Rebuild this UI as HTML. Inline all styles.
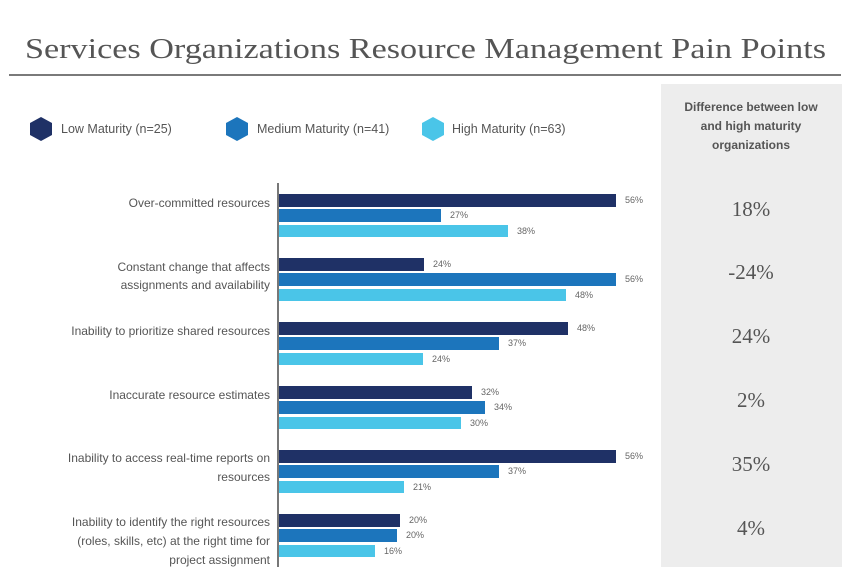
<!DOCTYPE html>
<html><head><meta charset="utf-8"><style>
html,body{margin:0;padding:0;background:#fff;}
svg{display:block;}
</style></head><body>
<svg width="850" height="576" xmlns="http://www.w3.org/2000/svg" font-family="Liberation Sans, sans-serif">
<rect width="850" height="576" fill="#fff"/>
<text x="25" y="58" font-family="Liberation Serif, serif" font-size="29" fill="#555" textLength="801" lengthAdjust="spacingAndGlyphs">Services Organizations Resource Management Pain Points</text>
<rect x="9" y="74" width="832" height="2" fill="#7a7a7a"/>
<rect x="661" y="84" width="181" height="483" fill="#ededed"/>
<g font-size="12" font-weight="bold" fill="#555" text-anchor="middle">
<text x="751" y="111">Difference between low</text>
<text x="751" y="130">and high maturity</text>
<text x="751" y="149">organizations</text>
</g>
<g font-family="Liberation Serif, serif" font-size="21" fill="#555" text-anchor="middle">
<text x="751" y="216">18%</text>
<text x="751" y="279">-24%</text>
<text x="751" y="343">24%</text>
<text x="751" y="407">2%</text>
<text x="751" y="471">35%</text>
<text x="751" y="535">4%</text>
</g>
<g font-size="12.5" fill="#555">
<polygon points="41,117 52,123 52,135 41,141 30,135 30,123" fill="#1f3166"/>
<text x="61" y="133">Low Maturity (n=25)</text>
<polygon points="237,117 248,123 248,135 237,141 226,135 226,123" fill="#1c75bc"/>
<text x="257" y="133">Medium Maturity (n=41)</text>
<polygon points="433,117 444,123 444,135 433,141 422,135 422,123" fill="#4ac5e8"/>
<text x="452" y="133">High Maturity (n=63)</text>
</g>
<g font-size="12" fill="#555" text-anchor="end">
<text x="270" y="207">Over-committed resources</text>
<text x="270" y="271">Constant change that affects</text>
<text x="270" y="289">assignments and availability</text>
<text x="270" y="335">Inability to prioritize shared resources</text>
<text x="270" y="399">Inaccurate resource estimates</text>
<text x="270" y="462">Inability to access real-time reports on</text>
<text x="270" y="481">resources</text>
<text x="270" y="526">Inability to identify the right resources</text>
<text x="270" y="545">(roles, skills, etc) at the right time for</text>
<text x="270" y="564">project assignment</text>
</g>
<rect x="277" y="183" width="2" height="384" fill="#777"/>
<g id="bars" font-size="9" fill="#666">
<rect x="279" y="194" width="337" height="13" fill="#1f3166"/><text x="625" y="203">56%</text>
<rect x="279" y="209" width="162" height="13" fill="#1c75bc"/><text x="450" y="218">27%</text>
<rect x="279" y="225" width="229" height="12" fill="#4ac5e8"/><text x="517" y="234">38%</text>

<rect x="279" y="258" width="145" height="13" fill="#1f3166"/><text x="433" y="267">24%</text>
<rect x="279" y="273" width="337" height="13" fill="#1c75bc"/><text x="625" y="282">56%</text>
<rect x="279" y="289" width="287" height="12" fill="#4ac5e8"/><text x="575" y="298">48%</text>

<rect x="279" y="322" width="289" height="13" fill="#1f3166"/><text x="577" y="331">48%</text>
<rect x="279" y="337" width="220" height="13" fill="#1c75bc"/><text x="508" y="346">37%</text>
<rect x="279" y="353" width="144" height="12" fill="#4ac5e8"/><text x="432" y="362">24%</text>

<rect x="279" y="386" width="193" height="13" fill="#1f3166"/><text x="481" y="395">32%</text>
<rect x="279" y="401" width="206" height="13" fill="#1c75bc"/><text x="494" y="410">34%</text>
<rect x="279" y="417" width="182" height="12" fill="#4ac5e8"/><text x="470" y="426">30%</text>

<rect x="279" y="450" width="337" height="13" fill="#1f3166"/><text x="625" y="459">56%</text>
<rect x="279" y="465" width="220" height="13" fill="#1c75bc"/><text x="508" y="474">37%</text>
<rect x="279" y="481" width="125" height="12" fill="#4ac5e8"/><text x="413" y="490">21%</text>

<rect x="279" y="514" width="121" height="13" fill="#1f3166"/><text x="409" y="523">20%</text>
<rect x="279" y="529" width="118" height="13" fill="#1c75bc"/><text x="406" y="538">20%</text>
<rect x="279" y="545" width="96" height="12" fill="#4ac5e8"/><text x="384" y="554">16%</text>
</g>
</svg>
</body></html>
